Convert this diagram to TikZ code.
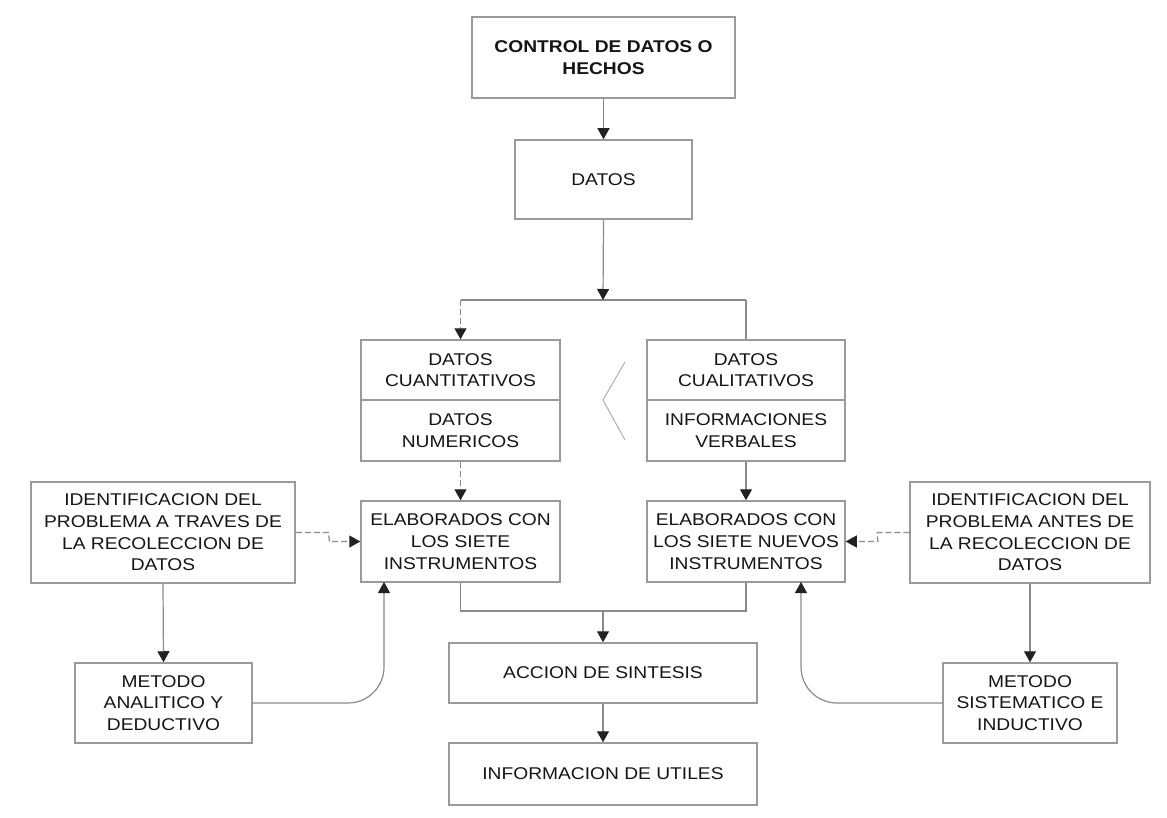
\documentclass[tikz,border=0pt]{standalone}
\usepackage{fontspec}
\setmainfont{Liberation Sans}[FakeStretch=1.13]
\usetikzlibrary{arrows.meta,calc}
\definecolor{boxgray}{HTML}{9A9A9A}
\definecolor{linegray}{HTML}{8A8A8A}
\definecolor{txt}{HTML}{151515}
\definecolor{tipc}{HTML}{222222}
\definecolor{chevc}{HTML}{B0B0B0}
\begin{document}
\begin{tikzpicture}[x=1pt,y=-1pt,
  box/.style={draw=boxgray, line width=1.5pt, fill=white, align=center, inner sep=0pt,
    text=txt, font=\fontsize{17}{21.7}\selectfont},
  plain/.style={draw=linegray, line width=1.2pt},
  conn/.style={plain, -{Triangle[width=12pt,length=11pt,color=tipc]}},
  dsh/.style={dash pattern=on 6pt off 3pt},
  chev/.style={draw=chevc, line width=1pt}]
\useasboundingbox[fill=white] (0,0) rectangle (1167,818);

% nodes
\node[box, minimum width=263pt, minimum height=81pt] (ctrl) at (603.5,57.5) {\textbf{CONTROL DE DATOS O}\\\textbf{HECHOS}};
\node[box, minimum width=177pt, minimum height=79pt] (datos) at (603.5,179.5) {DATOS};

\node[box, minimum width=199pt, minimum height=60pt] (cuanA) at (460.5,370) {DATOS\\CUANTITATIVOS};
\node[box, minimum width=199pt, minimum height=61pt] (cuanB) at (460.5,430.5) {DATOS\\NUMERICOS};
\node[box, minimum width=198pt, minimum height=60pt] (cualA) at (746,370) {DATOS\\CUALITATIVOS};
\node[box, minimum width=198pt, minimum height=61pt] (cualB) at (746,430.5) {INFORMACIONES\\VERBALES};

\node[box, minimum width=199pt, minimum height=81pt] (elabL) at (460.5,541.5) {ELABORADOS CON\\LOS SIETE\\INSTRUMENTOS};
\node[box, minimum width=198pt, minimum height=81pt] (elabR) at (746,541.5) {ELABORADOS CON\\LOS SIETE NUEVOS\\INSTRUMENTOS};

\node[box, minimum width=264pt, minimum height=101pt] (identL) at (163,532.5) {IDENTIFICACION DEL\\PROBLEMA A TRAVES DE\\LA RECOLECCION DE\\DATOS};
\node[box, minimum width=240pt, minimum height=101pt] (identR) at (1030,532.5) {IDENTIFICACION DEL\\PROBLEMA ANTES DE\\LA RECOLECCION DE\\DATOS};

\node[box, minimum width=177pt, minimum height=80pt] (metL) at (163.5,703) {METODO\\ANALITICO Y\\DEDUCTIVO};
\node[box, minimum width=174pt, minimum height=80pt] (metR) at (1030,703) {METODO\\SISTEMATICO E\\INDUCTIVO};

\node[box, minimum width=308pt, minimum height=60pt] (accion) at (603,673) {ACCION DE SINTESIS};
\node[box, minimum width=308pt, minimum height=62pt] (info) at (603,774) {INFORMACION DE UTILES};

% junction coordinates
\coordinate (j) at (603,300);
\coordinate (jl) at (cuanA.north |- j);
\coordinate (jr) at (cualA.north |- j);
\coordinate (jb) at (603,611);
\coordinate (upL) at (384,582);
\coordinate (upR) at (801,582);

% connectors
\draw[conn] (ctrl.south) -- (datos.north);
\draw[plain] (jl) -- (jr);
\draw[conn] (datos.south) -- (j);
\draw[conn, dsh] (jl) -- (cuanA.north);
\draw[plain] (jr) -- (cualA.north);

\draw[conn, dsh] (cuanB.south) -- (elabL.north);
\draw[conn] (cualB.south) -- (elabR.north);

\draw[plain] (elabL.south) |- (jb);
\draw[plain] (elabR.south) |- (jb);
\draw[conn] (jb) -- (accion.north);
\draw[conn] (accion.south) -- (info.north);

\draw[conn] (identL.south) -- (metL.north);
\draw[conn] (identR.south) -- (metR.north);

\draw[conn, dsh] (identL.east) -- ($(identL.east)+(33,0)$) -- ($(elabL.west)+(-31,0)$) -- (elabL.west);
\draw[conn, dsh] (identR.west) -- ($(identR.west)+(-32,0)$) -- ($(elabR.east)+(32,0)$) -- (elabR.east);

\draw[conn, rounded corners=36pt] (metL.east) -| (upL);
\draw[conn, rounded corners=36pt] (metR.west) -| (upR);

% chevron
\draw[chev] (625,362) -- (603,400) -- (625,440);
\end{tikzpicture}
\end{document}
